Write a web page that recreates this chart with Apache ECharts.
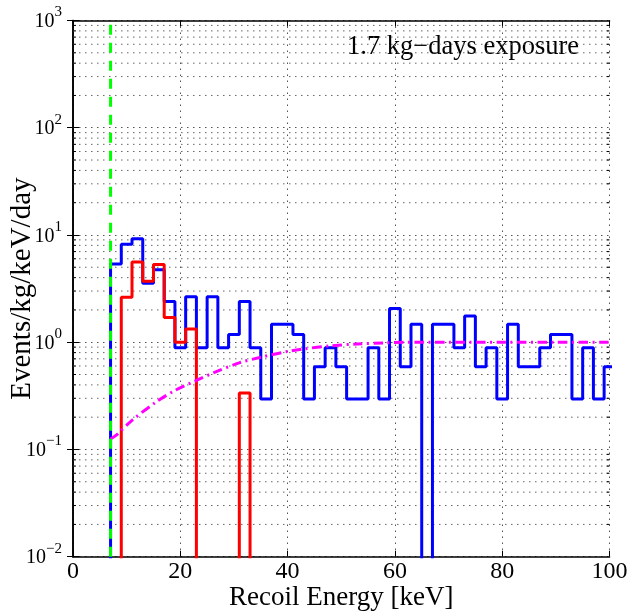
<!DOCTYPE html>
<html><head><meta charset="utf-8">
<script src="https://cdn.jsdelivr.net/npm/echarts@6/dist/echarts.min.js"></script>
<style>html,body{margin:0;padding:0;background:#fff}#c{width:631px;height:612px}</style>
</head><body><div id="c"></div>
<script>
// ---- data ----
const binStart = 7;      // keV, left edge of first bin
const binWidth = 2;      // keV
const blueValues = [5.35, 8.2, 9.2, 3.55, 4.75, 2.4, 0.89, 2.65, 0.89, 2.65, 0.89, 1.18, 2.4, 0.89,
  0.295, 1.47, 1.47, 1.18, 0.295, 0.59, 0.89, 0.59, 0.295, 0.295, 0.89, 0.295, 2.06, 0.59, 1.47,
  0, 1.47, 1.47, 0.89, 1.76, 0.59, 0.89, 0.295, 1.47, 0.59, 0.59, 0.89, 1.18, 1.18, 0.295, 0.89,
  0.295, 0.59];
const redValues = [0, 2.62, 5.6, 3.7, 5.3, 1.7, 1.0, 1.33, 0, 0, 0, 0, 0.336, 0];
const curveEnergy = [7, 8, 11, 15.5, 19, 23, 26.5, 31, 35, 40, 43, 48, 53, 58, 62, 70, 80, 90, 100];
const curveValues = [0.125, 0.135, 0.187, 0.277, 0.355, 0.44, 0.526, 0.642, 0.725, 0.82, 0.866, 0.925, 0.964, 0.985, 1.0, 1.0, 1.0, 1.0, 1.0];
const thresholdKeV = 7;
const xTicks = [0, 20, 40, 60, 80, 100];
const yExponents = [-2, -1, 0, 1, 2, 3];
const minorMultipliers = [2, 3, 4, 5, 6, 7, 8, 9];
const annotation = '1.7 kg\u2212days exposure';

const FLOOR = 1e-4;
function stepData(values) {
  const pts = [[binStart, FLOOR]];
  values.forEach((v, i) => pts.push([binStart + i * binWidth, v > 0 ? v : FLOOR]));
  pts.push([binStart + values.length * binWidth, FLOOR]);
  return pts;
}
const xMin = xTicks[0], xMax = xTicks[xTicks.length - 1];
const minorVals = [];
yExponents.slice(0, -1).forEach(e => minorMultipliers.forEach(m => minorVals.push([xMin, m * Math.pow(10, e)])));

const FONT = 'Liberation Serif';
const gridStyle = {color: '#555', width: 1, type: [1.5, 4.5]};
const yMin = Math.pow(10, yExponents[0]), yMax = Math.pow(10, yExponents[yExponents.length - 1]);
const supFmt = v => {
  const e = Math.round(Math.log10(v));
  return '{b|10}{s|' + (e < 0 ? '\u2212' + (-e) : e) + '}';
};

const chart = echarts.init(document.getElementById('c'), null, {renderer: 'canvas'});
chart.setOption({
  animation: false,
  backgroundColor: '#fff',
  grid: {left: 73, right: 21.5, top: 20.5, bottom: 55.3, show: false, containLabel: false, outerBoundsMode: 'none'},
  xAxis: [{
    type: 'value', min: xMin, max: xMax, interval: 20,
    name: 'Recoil Energy [keV]', nameLocation: 'middle', nameGap: 27.5, nameMoveOverlap: false,
    nameTextStyle: {fontFamily: FONT, fontSize: 27, color: '#000'},
    axisLine: {lineStyle: {color: '#000', width: 1.6}},
    axisTick: {inside: true, length: 6, lineStyle: {color: '#000'}},
    axisLabel: {fontFamily: FONT, fontSize: 24, color: '#000', margin: 3},
    splitLine: {show: true, lineStyle: gridStyle}
  }, {
    type: 'value', position: 'top', min: xMin, max: xMax, interval: 20,
    axisLine: {lineStyle: {color: '#000', width: 1.6}},
    axisTick: {inside: true, length: 6, lineStyle: {color: '#000'}},
    axisLabel: {show: false}, splitLine: {show: false}
  }],
  yAxis: [{
    type: 'log', logBase: 10, min: yMin, max: yMax,
    name: 'Events/kg/keV/day', nameLocation: 'middle', nameGap: 36.5, nameMoveOverlap: false,
    nameTextStyle: {fontFamily: FONT, fontSize: 29, color: '#000'},
    axisLine: {lineStyle: {color: '#000', width: 1.6}},
    axisTick: {inside: true, length: 6, lineStyle: {color: '#000'}},
    axisLabel: {formatter: supFmt, margin: 11, padding: [0, 0, 4, 0],
      rich: {
        b: {fontFamily: FONT, fontSize: 20, color: '#000', lineHeight: 27, verticalAlign: 'bottom'},
        s: {fontFamily: FONT, fontSize: 15, color: '#000', lineHeight: 15, verticalAlign: 'top'}
      }},
    splitLine: {show: true, lineStyle: gridStyle}
  }, {
    type: 'log', logBase: 10, min: yMin, max: yMax, position: 'right',
    axisLine: {lineStyle: {color: '#000', width: 1.6}},
    axisTick: {inside: true, length: 6, lineStyle: {color: '#000'}},
    axisLabel: {show: false}, splitLine: {show: false}
  }],
  graphic: [{
    type: 'text', left: 347, top: 33.5,
    style: {text: annotation, font: '26.5px "Liberation Serif"', fill: '#000'}
  }],
  series: [{
    type: 'custom', name: 'minorGrid', data: minorVals, encode: {x: 0, y: 1}, z: 1, silent: true,
    renderItem: function (params, api) {
      const y = api.value(1);
      const a = api.coord([xMin, y]), b = api.coord([xMax, y]);
      return {type: 'group', children: [
        {type: 'line', shape: {x1: a[0], y1: a[1], x2: b[0], y2: b[1]}, style: {stroke: '#666', lineWidth: 1, lineDash: [1.5, 4.5]}},
        {type: 'line', shape: {x1: a[0], y1: a[1], x2: a[0] + 3, y2: a[1]}, style: {stroke: '#000', lineWidth: 1}},
        {type: 'line', shape: {x1: b[0] - 3, y1: b[1], x2: b[0], y2: b[1]}, style: {stroke: '#000', lineWidth: 1}}
      ]};
    }
  }, {
    type: 'line', name: 'all', step: 'end', data: stepData(blueValues), symbol: 'none', z: 3,
    lineStyle: {color: '#0000ff', width: 3}
  }, {
    type: 'line', name: 'cut', step: 'end', data: stepData(redValues), symbol: 'none', z: 4,
    lineStyle: {color: '#ff0000', width: 3}
  }, {
    type: 'line', name: 'eff', smooth: 0.3, data: curveEnergy.map((e, i) => [e, curveValues[i]]), symbol: 'none', z: 5,
    lineStyle: {color: '#ff00ff', width: 3, type: [9.5, 4.5, 2, 4.5]}
  }, {
    type: 'line', name: 'thr', data: [[thresholdKeV, yMin], [thresholdKeV, yMax]], symbol: 'none', z: 6,
    lineStyle: {color: '#00ff00', width: 3, type: [10, 8]}
  }]
});
</script></body></html>
